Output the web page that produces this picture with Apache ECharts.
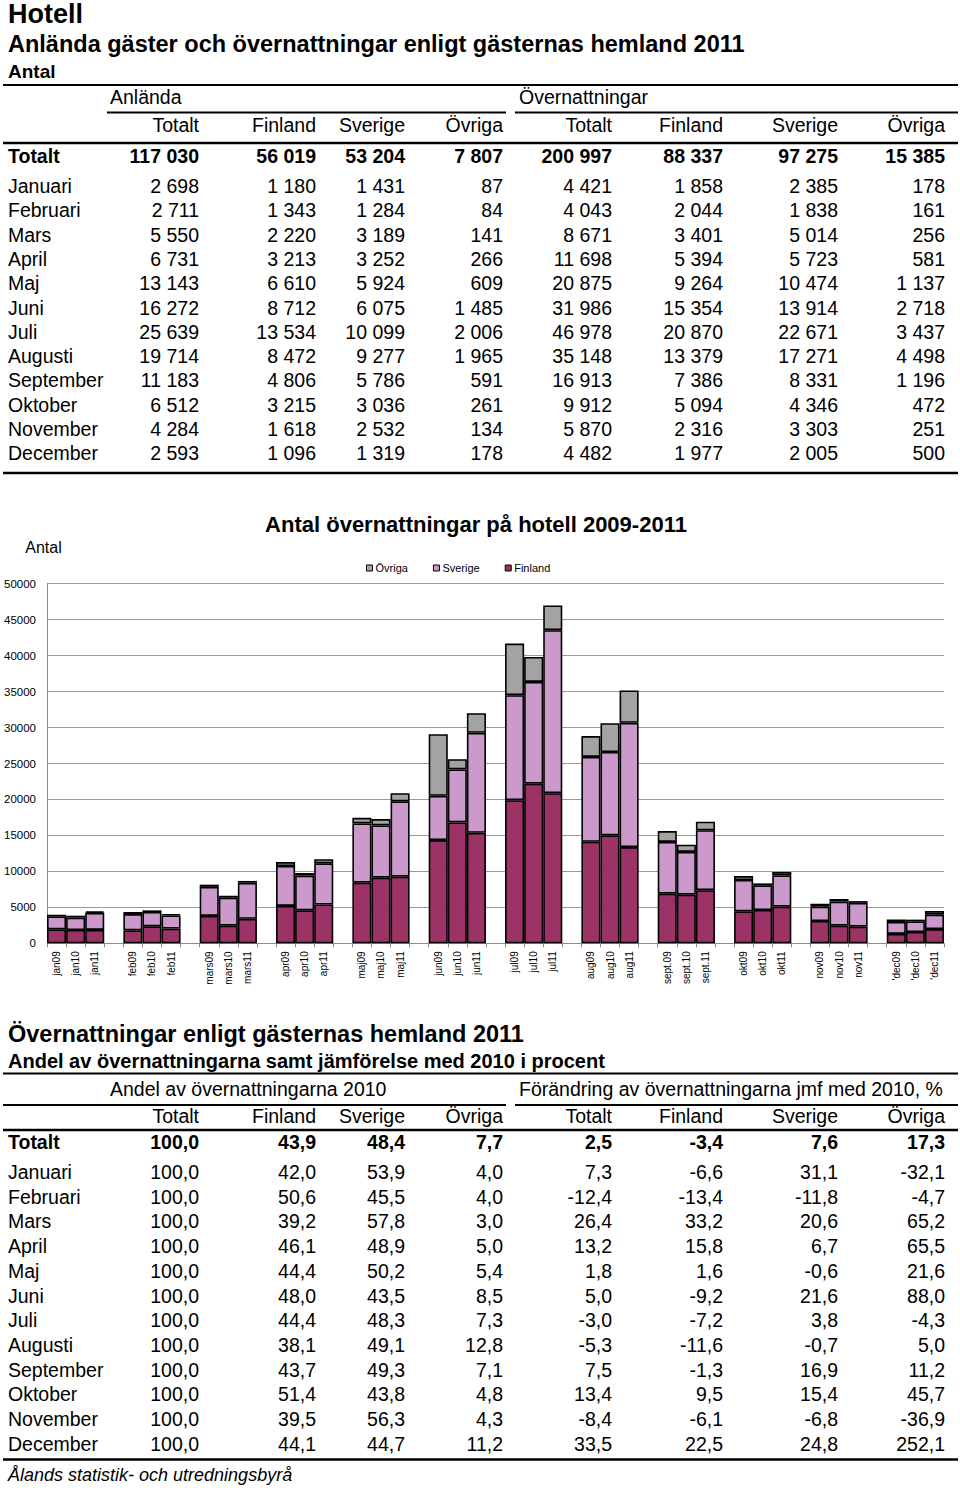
<!DOCTYPE html>
<html>
<head>
<meta charset="utf-8">
<script src="https://cdn.jsdelivr.net/npm/echarts@6/dist/echarts.min.js"></script>
<style>
html,body{margin:0;padding:0;background:#fff;}
#main{width:960px;height:1490px;}
</style>
</head>
<body>
<div id="main"></div>
<script>
// ---------- DATA ----------
const months = ['Januari','Februari','Mars','April','Maj','Juni','Juli','Augusti','September','Oktober','November','December'];
const colHeads = ['Totalt','Finland','Sverige','Övriga'];

// Table 1: Anlända / Övernattningar 2011
const anlTotalt  = [2698, 2711, 5550, 6731, 13143, 16272, 25639, 19714, 11183, 6512, 4284, 2593];
const anlFinland = [1180, 1343, 2220, 3213, 6610, 8712, 13534, 8472, 4806, 3215, 1618, 1096];
const anlSverige = [1431, 1284, 3189, 3252, 5924, 6075, 10099, 9277, 5786, 3036, 2532, 1319];
const anlOvriga  = [87, 84, 141, 266, 609, 1485, 2006, 1965, 591, 261, 134, 178];
const ovnTotalt  = [4421, 4043, 8671, 11698, 20875, 31986, 46978, 35148, 16913, 9912, 5870, 4482];
const ovnFinland = [1858, 2044, 3401, 5394, 9264, 15354, 20870, 13379, 7386, 5094, 2316, 1977];
const ovnSverige = [2385, 1838, 5014, 5723, 10474, 13914, 22671, 17271, 8331, 4346, 3303, 2005];
const ovnOvriga  = [178, 161, 256, 581, 1137, 2718, 3437, 4498, 1196, 472, 251, 500];
const table1Totals = [117030, 56019, 53204, 7807, 200997, 88337, 97275, 15385];

// Chart: övernattningar 2009-2011 (2011 = table values above)
const fin09 = [1950, 1800, 3800, 5200, 8430, 14350, 19900, 14120, 6900, 4440, 3100, 1300];
const sve09 = [1800, 2270, 4050, 5550, 8240, 6150, 14600, 11800, 7200, 4360, 2000, 1660];
const ovr09 = [230, 280, 300, 550, 780, 8570, 7170, 2900, 1500, 550, 400, 350];
const fin10 = [1850, 2360, 2450, 4580, 9120, 16800, 22200, 15000, 6760, 4630, 2450, 1570];
const sve10 = [1710, 1990, 3890, 4820, 7270, 7370, 14140, 11600, 5940, 3430, 3340, 1490];
const ovr10 = [280, 230, 280, 370, 880, 1430, 3480, 4000, 1000, 270, 370, 230];
const fin11 = ovnFinland;
const sve11 = ovnSverige;
const ovr11 = ovnOvriga;
const xLabels = ['jan09','jan10','jan11','',
  'feb09','feb10','feb11','',
  'mars09','mars10','mars11','',
  'apr09','apr10','apr11','',
  'maj09','maj10','maj11','',
  'jun09','jun10','jun11','',
  'jul09','jul10','jul11','',
  'aug09','aug10','aug11','',
  'sept.09','sept.10','sept.11','',
  'okt09','okt10','okt11','',
  'nov09','nov10','nov11','',
  "'dec09","'dec10","'dec11"];
const yTicks = [0, 5000, 10000, 15000, 20000, 25000, 30000, 35000, 40000, 45000, 50000];

// Table 2: Andel 2010 / Förändring jmf med 2010
const andTotalt  = [100.0,100.0,100.0,100.0,100.0,100.0,100.0,100.0,100.0,100.0,100.0,100.0];
const andFinland = [42.0, 50.6, 39.2, 46.1, 44.4, 48.0, 44.4, 38.1, 43.7, 51.4, 39.5, 44.1];
const andSverige = [53.9, 45.5, 57.8, 48.9, 50.2, 43.5, 48.3, 49.1, 49.3, 43.8, 56.3, 44.7];
const andOvriga  = [4.0, 4.0, 3.0, 5.0, 5.4, 8.5, 7.3, 12.8, 7.1, 4.8, 4.3, 11.2];
const forTotalt  = [7.3, -12.4, 26.4, 13.2, 1.8, 5.0, -3.0, -5.3, 7.5, 13.4, -8.4, 33.5];
const forFinland = [-6.6, -13.4, 33.2, 15.8, 1.6, -9.2, -7.2, -11.6, -1.3, 9.5, -6.1, 22.5];
const forSverige = [31.1, -11.8, 20.6, 6.7, -0.6, 21.6, 3.8, -0.7, 16.9, 15.4, -6.8, 24.8];
const forOvriga  = [-32.1, -4.7, 65.2, 65.5, 21.6, 88.0, -4.3, 5.0, 11.2, 45.7, -36.9, 252.1];
const table2Totals = [100.0, 43.9, 48.4, 7.7, 2.5, -3.4, 7.6, 17.3];

// ---------- HELPERS ----------
const FONT = '"Liberation Sans", Arial, Helvetica, sans-serif';
const fmtInt = n => String(n).replace(/\B(?=(\d{3})+(?!\d))/g, '\u00a0');
const fmtDec = v => v.toFixed(1).replace('.', ',');

const G = [];
function txt(x, y, s, size, weight, align, style) {
  G.push({
    type: 'text', x: x, y: y, silent: true,
    style: {
      text: s, fill: '#000', fontFamily: FONT, fontSize: size,
      fontWeight: weight || 'normal', fontStyle: style || 'normal',
      align: align || 'left', verticalAlign: 'middle',
      textAlign: align || 'left', textVerticalAlign: 'middle'
    }
  });
}
function hline(x1, x2, y, w) {
  G.push({ type: 'line', silent: true, shape: { x1: x1, y1: y, x2: x2, y2: y },
    style: { stroke: '#000', lineWidth: w } });
}

const colX = [199, 316, 405, 503, 612, 723, 838, 945];
const TS = 19.5;

// ---------- TOP TABLE ----------
txt(8, 14, 'Hotell', 27, 'bold');
txt(8, 44, 'Anlända gäster och övernattningar enligt gästernas hemland 2011', 23.5, 'bold');
txt(8, 71, 'Antal', 19, 'bold');
hline(3, 958, 85, 2);
txt(110, 96.5, 'Anlända', TS);
txt(519, 96.5, 'Övernattningar', TS);
hline(107, 506, 112.5, 2);
hline(515, 958, 112.5, 2);
for (let g = 0; g < 2; g++) for (let c = 0; c < 4; c++) txt(colX[g * 4 + c], 124.5, colHeads[c], TS, 'normal', 'right');
hline(3, 958, 143, 2.5);
txt(8, 156, 'Totalt', TS, 'bold');
table1Totals.forEach((v, i) => txt(colX[i], 156, fmtInt(v), TS, 'bold', 'right'));
const t1cols = [anlTotalt, anlFinland, anlSverige, anlOvriga, ovnTotalt, ovnFinland, ovnSverige, ovnOvriga];
months.forEach((m, r) => {
  const y = 186 + r * 24.3;
  txt(8, y, m, TS);
  t1cols.forEach((arr, c) => txt(colX[c], y, fmtInt(arr[r]), TS, 'normal', 'right'));
});
hline(3, 958, 473, 2.5);

// ---------- CHART TEXTS ----------
txt(476, 524, 'Antal övernattningar på hotell 2009-2011', 22, 'bold', 'center');

// ---------- BOTTOM TABLE ----------
txt(8, 1034, 'Övernattningar enligt gästernas hemland 2011', 23.5, 'bold');
txt(8, 1061, 'Andel av övernattningarna samt jämförelse med 2010 i procent', 20, 'bold');
hline(3, 958, 1073.5, 2);
txt(110, 1089, 'Andel av övernattningarna 2010', TS);
txt(519, 1089, 'Förändring av övernattningarna jmf med 2010, %', TS);
hline(3, 506, 1105, 2);
hline(515, 958, 1105, 2);
for (let g = 0; g < 2; g++) for (let c = 0; c < 4; c++) txt(colX[g * 4 + c], 1115.5, colHeads[c], TS, 'normal', 'right');
hline(3, 958, 1130, 2.5);
txt(8, 1142, 'Totalt', TS, 'bold');
table2Totals.forEach((v, i) => txt(colX[i], 1142, fmtDec(v), TS, 'bold', 'right'));
const t2cols = [andTotalt, andFinland, andSverige, andOvriga, forTotalt, forFinland, forSverige, forOvriga];
months.forEach((m, r) => {
  const y = 1172 + r * 24.7;
  txt(8, y, m, TS);
  t2cols.forEach((arr, c) => txt(colX[c], y, fmtDec(arr[r]), TS, 'normal', 'right'));
});
hline(3, 958, 1459.5, 2.5);
txt(8, 1475, 'Ålands statistik- och utredningsbyrå', 18, 'normal', 'left', 'italic');

// ---------- CHART SERIES DATA (interleave years, gap between months) ----------
function build(a, b, c) {
  const out = [];
  for (let m = 0; m < 12; m++) {
    out.push(a[m], b[m], c[m]);
    if (m < 11) out.push('-');
  }
  return out;
}
const finData = build(fin09, fin10, fin11);
const sveData = build(sve09, sve10, sve11);
const ovrData = build(ovr09, ovr10, ovr11);

const COL_FIN = '#9b3366';
const COL_SVE = '#cc99cc';
const COL_OVR = '#a3a3a3';
const barStyle = c => ({ color: c, borderColor: '#000', borderWidth: 1.6 });

const chart = echarts.init(document.getElementById('main'), null, { renderer: 'svg', width: 960, height: 1490 });
chart.setOption({
  backgroundColor: '#fff',
  animation: false,
  textStyle: { fontFamily: FONT },
  legend: {
    data: ['Övriga', 'Sverige', 'Finland'],
    left: 361, top: 557.5,
    itemWidth: 6, itemHeight: 6, itemGap: 25,
    icon: 'rect',
    textStyle: { fontSize: 11, color: '#000', fontFamily: FONT, padding: [0, 0, 0, -2] },
    itemStyle: { borderColor: '#000', borderWidth: 1 }
  },
  grid: { left: 47, right: 16, top: 583.7, bottom: 546.7, containLabel: false },
  xAxis: {
    type: 'category',
    data: xLabels,
    boundaryGap: true,
    axisLine: { show: true, lineStyle: { color: '#8c8c8c', width: 1 } },
    axisTick: { show: true, interval: 0, length: 4, lineStyle: { color: '#8c8c8c' } },
    axisLabel: { interval: 0, rotate: 90, fontSize: 10, color: '#000', margin: 8, fontFamily: FONT }
  },
  yAxis: {
    type: 'value',
    min: yTicks[0], max: yTicks[yTicks.length - 1], interval: yTicks[1] - yTicks[0],
    name: 'Antal', nameLocation: 'end', nameGap: 28,
    nameTextStyle: { fontSize: 16, color: '#000', padding: [0, 7, 0, 0], fontFamily: FONT },
    axisLine: { show: true, lineStyle: { color: '#8c8c8c', width: 1 } },
    axisTick: { show: false },
    axisLabel: { fontSize: 11.5, color: '#000', margin: 11, fontFamily: FONT, formatter: v => String(v) },
    splitLine: { show: true, lineStyle: { color: '#9a9a9a', width: 1 } }
  },
  series: [
    { name: 'Finland', type: 'bar', stack: 'total', data: finData, barWidth: '100%', barCategoryGap: '0%', itemStyle: barStyle(COL_FIN) },
    { name: 'Sverige', type: 'bar', stack: 'total', data: sveData, barWidth: '100%', barCategoryGap: '0%', itemStyle: barStyle(COL_SVE) },
    { name: 'Övriga', type: 'bar', stack: 'total', data: ovrData, barWidth: '100%', barCategoryGap: '0%', itemStyle: barStyle(COL_OVR) }
  ],
  graphic: { elements: G }
});
</script>
</body>
</html>
